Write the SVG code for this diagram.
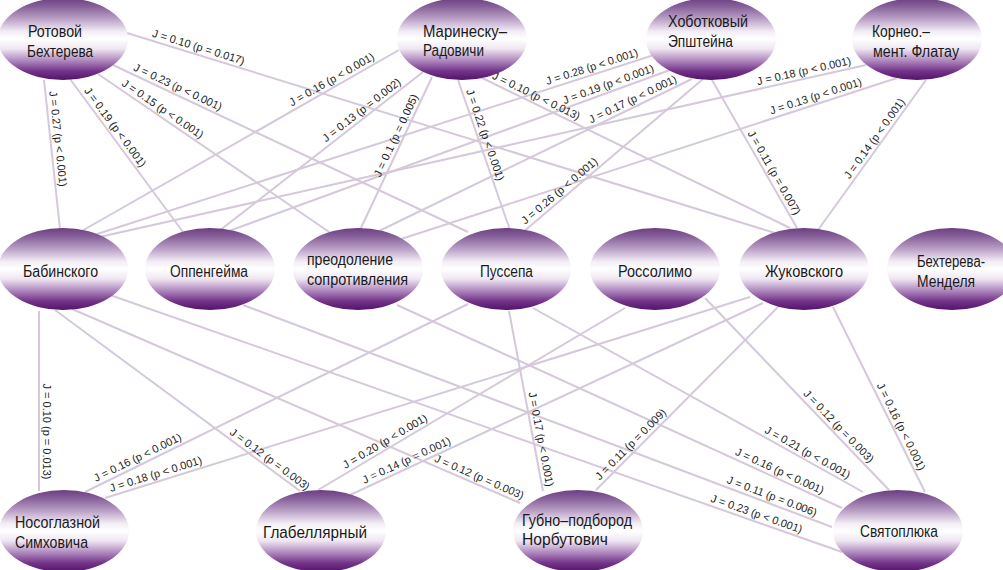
<svg xmlns="http://www.w3.org/2000/svg" width="1003" height="570" viewBox="0 0 1003 570">
<defs>
<linearGradient id="g" x1="0" y1="0" x2="0" y2="1">
<stop offset="0" stop-color="#6e3e83"/>
<stop offset="0.1" stop-color="#855f98"/>
<stop offset="0.26" stop-color="#bca2c8"/>
<stop offset="0.41" stop-color="#f3eef5"/>
<stop offset="0.5" stop-color="#ffffff"/>
<stop offset="0.62" stop-color="#efe6f2"/>
<stop offset="0.76" stop-color="#b08abf"/>
<stop offset="0.89" stop-color="#73348a"/>
<stop offset="1" stop-color="#52136a"/>
</linearGradient>
<style>
.edge{stroke:#d5c8db;stroke-width:2;fill:none}
.lbl{font-family:"Liberation Sans",Arial,sans-serif;font-size:11px;fill:#1e1e1e;text-anchor:middle}
.nd{fill:url(#g)}
.nt{font-family:"Liberation Sans",Arial,sans-serif;font-size:16px;fill:#1a1a1a}
</style>
</defs>
<rect width="1003" height="570" fill="#ffffff"/>
<g id="connectors">
<line class="edge" x1="44" y1="80" x2="60" y2="229"/>
<line class="edge" x1="70" y1="79" x2="183" y2="232"/>
<line class="edge" x1="98" y1="74" x2="335" y2="236"/>
<line class="edge" x1="113" y1="65" x2="468" y2="232"/>
<line class="edge" x1="127" y1="33" x2="775" y2="233"/>
<line class="edge" x1="80" y1="232" x2="399" y2="50"/>
<line class="edge" x1="219" y1="231" x2="423" y2="72"/>
<line class="edge" x1="360" y1="230" x2="432" y2="77"/>
<line class="edge" x1="458" y1="80" x2="510" y2="230"/>
<line class="edge" x1="480" y1="77" x2="790" y2="228"/>
<line class="edge" x1="91" y1="236" x2="654" y2="55"/>
<line class="edge" x1="229" y1="231" x2="670" y2="70"/>
<line class="edge" x1="375" y1="233" x2="692" y2="79"/>
<line class="edge" x1="522" y1="233" x2="703" y2="79"/>
<line class="edge" x1="712" y1="80" x2="797" y2="228"/>
<line class="edge" x1="95" y1="238" x2="866" y2="65"/>
<line class="edge" x1="395" y1="241" x2="897" y2="78"/>
<line class="edge" x1="818" y1="230" x2="926" y2="80"/>
<line class="edge" x1="39" y1="311" x2="39" y2="491"/>
<line class="edge" x1="55" y1="310" x2="300" y2="491"/>
<line class="edge" x1="72" y1="309" x2="520" y2="503"/>
<line class="edge" x1="110" y1="295" x2="842" y2="552"/>
<line class="edge" x1="243" y1="305" x2="832" y2="527"/>
<line class="edge" x1="397" y1="305" x2="842" y2="508"/>
<line class="edge" x1="85" y1="492" x2="468" y2="304"/>
<line class="edge" x1="509" y1="311" x2="543" y2="491"/>
<line class="edge" x1="533" y1="308" x2="863" y2="492"/>
<line class="edge" x1="318" y1="490" x2="625" y2="308"/>
<line class="edge" x1="705" y1="298" x2="889" y2="490"/>
<line class="edge" x1="105" y1="498" x2="750" y2="297"/>
<line class="edge" x1="350" y1="495" x2="763" y2="303"/>
<line class="edge" x1="596" y1="490" x2="778" y2="307"/>
<line class="edge" x1="833" y1="307" x2="925" y2="492"/>
</g>
<g id="n-rotovoy"><ellipse class="nd" cx="63" cy="39" rx="65" ry="41"/><text class="nt"><tspan x="28" y="37" textLength="54" lengthAdjust="spacingAndGlyphs">Ротовой</tspan><tspan x="27" y="57" textLength="66" lengthAdjust="spacingAndGlyphs">Бехтерева</tspan></text></g>
<g id="n-marinesku"><ellipse class="nd" cx="462" cy="39" rx="65" ry="41"/><text class="nt"><tspan x="423" y="37" textLength="84" lengthAdjust="spacingAndGlyphs">Маринеску–</tspan><tspan x="423" y="56" textLength="61" lengthAdjust="spacingAndGlyphs">Радовичи</tspan></text></g>
<g id="n-hobotkovy"><ellipse class="nd" cx="711" cy="39" rx="65" ry="41"/><text class="nt"><tspan x="668" y="27" textLength="80" lengthAdjust="spacingAndGlyphs">Хоботковый</tspan><tspan x="668" y="47" textLength="65" lengthAdjust="spacingAndGlyphs">Эпштейна</tspan></text></g>
<g id="n-korneo"><ellipse class="nd" cx="917" cy="39" rx="65" ry="41"/><text class="nt"><tspan x="872" y="37" textLength="58" lengthAdjust="spacingAndGlyphs">Корнео.–</tspan><tspan x="873" y="57" textLength="86" lengthAdjust="spacingAndGlyphs">мент. Флатау</tspan></text></g>
<g id="n-babinsky"><ellipse class="nd" cx="63" cy="269" rx="65" ry="41"/><text class="nt" x="23" y="277" textLength="75" lengthAdjust="spacingAndGlyphs">Бабинского</text></g>
<g id="n-oppenheim"><ellipse class="nd" cx="210" cy="269" rx="65" ry="41"/><text class="nt" x="170" y="277" textLength="78" lengthAdjust="spacingAndGlyphs">Оппенгейма</text></g>
<g id="n-preodolenie"><ellipse class="nd" cx="358" cy="269" rx="65" ry="41"/><text class="nt"><tspan x="307" y="265" textLength="86" lengthAdjust="spacingAndGlyphs">преодоление</tspan><tspan x="307" y="285" textLength="101" lengthAdjust="spacingAndGlyphs">сопротивления</tspan></text></g>
<g id="n-pussep"><ellipse class="nd" cx="506" cy="269" rx="65" ry="41"/><text class="nt" x="480" y="277" textLength="53" lengthAdjust="spacingAndGlyphs">Пуссепа</text></g>
<g id="n-rossolimo"><ellipse class="nd" cx="655" cy="269" rx="65" ry="41"/><text class="nt" x="618" y="277" textLength="74" lengthAdjust="spacingAndGlyphs">Россолимо</text></g>
<g id="n-zhukovsky"><ellipse class="nd" cx="804" cy="269" rx="65" ry="41"/><text class="nt" x="765" y="277" textLength="78" lengthAdjust="spacingAndGlyphs">Жуковского</text></g>
<g id="n-bekhterev-mendel"><ellipse class="nd" cx="952" cy="269" rx="65" ry="41"/><text class="nt"><tspan x="917" y="267" textLength="68" lengthAdjust="spacingAndGlyphs">Бехтерева-</tspan><tspan x="917" y="287" textLength="58" lengthAdjust="spacingAndGlyphs">Менделя</tspan></text></g>
<g id="n-nosoglaznoy"><ellipse class="nd" cx="64" cy="531" rx="65" ry="41"/><text class="nt"><tspan x="15" y="528" textLength="85" lengthAdjust="spacingAndGlyphs">Носоглазной</tspan><tspan x="15" y="548" textLength="73" lengthAdjust="spacingAndGlyphs">Симховича</tspan></text></g>
<g id="n-glabellar"><ellipse class="nd" cx="321" cy="531" rx="65" ry="41"/><text class="nt" x="263" y="538" textLength="104" lengthAdjust="spacingAndGlyphs">Глабеллярный</text></g>
<g id="n-gubno"><ellipse class="nd" cx="578" cy="531" rx="65" ry="41"/><text class="nt"><tspan x="522" y="526" textLength="110" lengthAdjust="spacingAndGlyphs">Губно–подбород</tspan><tspan x="522" y="545" textLength="86" lengthAdjust="spacingAndGlyphs">Норбутович</tspan></text></g>
<g id="n-svyatoplyuk"><ellipse class="nd" cx="898" cy="531" rx="65" ry="41"/><text class="nt" x="860" y="537" textLength="78" lengthAdjust="spacingAndGlyphs">Святоплюка</text></g>
<g id="connector-labels">
<text class="lbl" transform="translate(50.4,139.6) rotate(83.87)" y="-4">J = 0.27 (p &lt; 0.001)</text>
<text class="lbl" transform="translate(109,131.8) rotate(53.55)" y="-4">J = 0.19 (p &lt; 0.001)</text>
<text class="lbl" transform="translate(158.4,115.3) rotate(34.36)" y="-4">J = 0.15 (p &lt; 0.001)</text>
<text class="lbl" transform="translate(174.6,94) rotate(25.19)" y="-4">J = 0.23 (p &lt; 0.001)</text>
<text class="lbl" transform="translate(196.3,54.4) rotate(17.15)" y="-4">J = 0.10 (p = 0.017)</text>
<text class="lbl" transform="translate(335.5,86.2) rotate(-29.7)" y="-4">J = 0.16 (p &lt; 0.001)</text>
<text class="lbl" transform="translate(366.3,116.2) rotate(-37.93)" y="-4">J = 0.13 (p = 0.002)</text>
<text class="lbl" transform="translate(402.9,138.7) rotate(-64.8)" y="-4">J = 0.1 (p = 0.005)</text>
<text class="lbl" transform="translate(477.9,137.4) rotate(70.88)" y="-4">J = 0.22 (p &lt; 0.001)</text>
<text class="lbl" transform="translate(532.9,102.8) rotate(25.97)" y="-4">J = 0.10 (p &lt; 0.013)</text>
<text class="lbl" transform="translate(594.2,74.2) rotate(-17.82)" y="-4">J = 0.28 (p &lt; 0.001)</text>
<text class="lbl" transform="translate(611,91.5) rotate(-20.06)" y="-4">J = 0.19 (p &lt; 0.001)</text>
<text class="lbl" transform="translate(636,106.2) rotate(-25.91)" y="-4">J = 0.17 (p &lt; 0.001)</text>
<text class="lbl" transform="translate(564.5,196.8) rotate(-40.4)" y="-4">J = 0.26 (p &lt; 0.001)</text>
<text class="lbl" transform="translate(767.4,176.4) rotate(60.13)" y="-4">J = 0.11 (p = 0.007)</text>
<text class="lbl" transform="translate(805.5,78.6) rotate(-12.65)" y="-4">J = 0.18 (p &lt; 0.001)</text>
<text class="lbl" transform="translate(818.1,103.6) rotate(-17.99)" y="-4">J = 0.13 (p &lt; 0.001)</text>
<text class="lbl" transform="translate(880.7,143) rotate(-54.25)" y="-4">J = 0.14 (p &lt; 0.001)</text>
<text class="lbl" transform="translate(39,431.5) rotate(90)" y="-4">J = 0.10 (p = 0.013)</text>
<text class="lbl" transform="translate(265.3,465.4) rotate(36.45)" y="-4">J = 0.12 (p = 0.003)</text>
<text class="lbl" transform="translate(476.1,484) rotate(23.41)" y="-4">J = 0.12 (p = 0.003)</text>
<text class="lbl" transform="translate(754,521.1) rotate(19.35)" y="-4">J = 0.23 (p &lt; 0.001)</text>
<text class="lbl" transform="translate(769.3,503.4) rotate(20.65)" y="-4">J = 0.11 (p = 0.006)</text>
<text class="lbl" transform="translate(776.4,478.1) rotate(24.52)" y="-4">J = 0.16 (p &lt; 0.001)</text>
<text class="lbl" transform="translate(140.9,464.5) rotate(-26.14)" y="-4">J = 0.16 (p &lt; 0.001)</text>
<text class="lbl" transform="translate(533.5,440.6) rotate(79.3)" y="-4">J = 0.17 (p &lt; 0.001)</text>
<text class="lbl" transform="translate(803.9,459.1) rotate(29.14)" y="-4">J = 0.21 (p &lt; 0.001)</text>
<text class="lbl" transform="translate(388.9,448) rotate(-30.66)" y="-4">J = 0.20 (p &lt; 0.001)</text>
<text class="lbl" transform="translate(833.1,431.6) rotate(46.22)" y="-4">J = 0.12 (p = 0.003)</text>
<text class="lbl" transform="translate(158,481.5) rotate(-17.31)" y="-4">J = 0.18 (p &lt; 0.001)</text>
<text class="lbl" transform="translate(409.7,467.3) rotate(-24.93)" y="-4">J = 0.14 (p = 0.001)</text>
<text class="lbl" transform="translate(636.1,449.7) rotate(-45.16)" y="-4">J = 0.11 (p = 0.009)</text>
<text class="lbl" transform="translate(894.2,430.1) rotate(63.56)" y="-4">J = 0.16 (p &lt; 0.001)</text>
</g>
</svg>
